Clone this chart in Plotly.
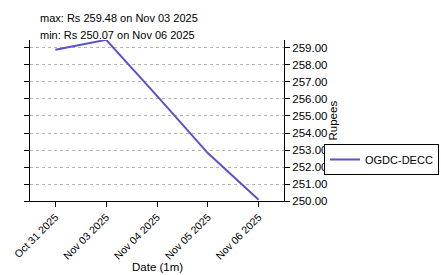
import plotly.graph_objects as go

dates = ["Oct 31 2025", "Nov 03 2025", "Nov 04 2025", "Nov 05 2025", "Nov 06 2025"]
prices = [258.90, 259.48, 256.18, 252.82, 250.07]
series_name = "OGDC-DECC"
ytick_vals = [250, 251, 252, 253, 254, 255, 256, 257, 258, 259]
ytick_text = ["%.2f" % v for v in ytick_vals]
info_lines = ["max: Rs 259.48 on Nov 03 2025", "min: Rs 250.07 on Nov 06 2025"]

FONT = "Liberation Sans, Arial, sans-serif"

fig = go.Figure()
fig.add_trace(go.Scatter(
    x=dates, y=prices, mode="lines", name=series_name,
    line=dict(color="#5b50d2", width=2),
))

fig.update_layout(
    width=441, height=275,
    margin=dict(l=30, r=157, t=40, b=74),
    paper_bgcolor="white", plot_bgcolor="white",
    font=dict(family=FONT, size=11.5, color="black"),
    showlegend=True,
    legend=dict(xref="container", yref="container",
                x=439 / 441, y=1 - 144 / 275, xanchor="right", yanchor="top",
                bordercolor="black", borderwidth=1, bgcolor="white",
                itemwidth=30, font=dict(size=11)),
    xaxis=dict(
        type="category", range=[-0.5, 4.5], automargin=False,
        showline=True, linecolor="black", linewidth=1,
        ticks="outside", ticklen=5, tickcolor="black",
        tickangle=-45, tickfont=dict(size=10.5),
        showgrid=False, zeroline=False,
    ),
    yaxis=dict(
        side="right", range=[250.0, 259.47], automargin=False,
        tickvals=ytick_vals, ticktext=ytick_text, tickfont=dict(size=11.5),
        showline=True, linecolor="black", linewidth=1, mirror="ticks",
        ticks="outside", ticklen=5, tickcolor="black",
        showgrid=True, gridcolor="#b4b4b4", gridwidth=1, griddash="dot",
        zeroline=False,
    ),
)

fig.add_annotation(
    text="Date (1m)", xref="paper", yref="paper",
    x=0.5, y=(201 - 267) / 161, xanchor="center", yanchor="middle",
    showarrow=False, font=dict(size=11.5, family=FONT),
)
fig.add_annotation(
    text="Rupees", xref="paper", yref="paper",
    x=(332 - 30) / 254, y=0.5, xanchor="center", yanchor="middle",
    textangle=-90, showarrow=False, font=dict(size=11.5, family=FONT),
)

for i, txt in enumerate(info_lines):
    fig.add_annotation(
        text=txt, xref="paper", yref="paper",
        x=(38 - 30) / 254, y=(201 - 18 - 17 * i) / 161,
        xanchor="left", yanchor="middle", showarrow=False,
        font=dict(size=11, family=FONT),
    )

fig.write_html("out.html")
